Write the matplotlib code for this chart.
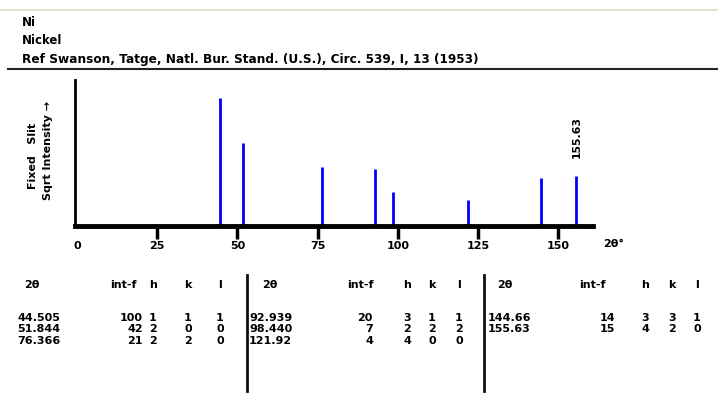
import numpy as np
import matplotlib
matplotlib.use("Agg")
import matplotlib.pyplot as plt
from matplotlib.lines import Line2D

# Ni powder diffraction lines (Cu K-alpha)
two_theta = [44.505, 51.844, 76.366, 92.939, 98.440, 121.92, 144.66, 155.63]
two_theta_text = ["44.505", "51.844", "76.366", "92.939", "98.440", "121.92", "144.66", "155.63"]
intensity = [100, 42, 21, 20, 7, 4, 14, 15]
h_idx = [1, 2, 2, 3, 2, 4, 3, 4]
k_idx = [1, 0, 2, 1, 2, 0, 3, 2]
l_idx = [1, 0, 0, 1, 2, 0, 1, 0]
x_ticks = [0, 25, 50, 75, 100, 125, 150]
labelled_peak = 155.63

title_lines = ["Ni", "Nickel",
               "Ref Swanson, Tatge, Natl. Bur. Stand. (U.S.), Circ. 539, I, 13 (1953)"]

W, H = 718, 398
fig = plt.figure(figsize=(W / 100, H / 100), dpi=100)
fig.patch.set_facecolor("white")
FONT = dict(family="DejaVu Sans", fontweight="bold")


def px(x, y):
    return x / W, 1 - y / H


def ftext(x, y, s, size=8, **kw):
    fx, fy = px(x, y)
    fig.text(fx, fy, s, fontsize=size, **FONT, **kw)


def hline(y, x0, x1, color, lw):
    fig.add_artist(Line2D([x0 / W, x1 / W], [1 - y / H, 1 - y / H],
                          color=color, lw=lw, transform=fig.transFigure))


def vline(x, y0, y1, color, lw):
    fig.add_artist(Line2D([x / W, x / W], [1 - y0 / H, 1 - y1 / H],
                          color=color, lw=lw, transform=fig.transFigure))


# header block
hline(10, 0, W, "#e4e0d4", 1.5)
ftext(22, 22, title_lines[0], size=8.5, va="center")
ftext(22, 40, title_lines[1], size=8.5, va="center")
ftext(22, 59, title_lines[2], size=8.7, va="center")
hline(69, 8, W, "#222222", 1.5)

# stick pattern
ax = fig.add_axes([75 / W, 1 - 226 / H, (593 - 75) / W, (226 - 80) / H])
heights = np.sqrt(intensity)
ax.vlines(two_theta, 0, heights, color="#0000ff", lw=2)
ax.set_xlim(-0.6, 160.8)
ax.set_ylim(0, 11.4)
for s in ("top", "right"):
    ax.spines[s].set_visible(False)
ax.spines["left"].set_linewidth(2)
ax.spines["bottom"].set_linewidth(3.5)
ax.set_yticks([])
ax.set_xticks(x_ticks)
ax.set_xticklabels([str(t) for t in x_ticks], fontsize=8, fontweight="bold")
ax.tick_params(axis="x", direction="out", length=9, width=2.5, pad=2)
ax.xaxis.get_major_ticks()[0].tick1line.set_visible(False)

i_lab = two_theta.index(labelled_peak)
ax.annotate(two_theta_text[i_lab], xy=(labelled_peak, heights[i_lab]),
            xytext=(0, 13), textcoords="offset points", rotation=90,
            ha="center", va="bottom", fontsize=7.8, **FONT)

ftext(614, 244, "2θ°", size=8, ha="center", va="center")
ftext(33, 156, "Fixed   Slit", size=8, rotation=90, ha="center", va="center")
ftext(48, 150, "Sqrt Intensity →", size=8, rotation=90, ha="center", va="center")

# peak table, three blocks of rows
cols = [
    dict(tt=17, tt_hdr=32, it=143, it_hdr=123, h=153, k=188, l=220),
    dict(tt=249, tt_hdr=270, it=373, it_hdr=360, h=407, k=432, l=459),
    dict(tt=488, tt_hdr=505, it=615, it_hdr=592, h=645, k=672, l=697),
]
row_y = [318, 329, 341]
hdr_y = 285
for b, c in enumerate(cols):
    ftext(c["tt_hdr"], hdr_y, "2θ", ha="center", va="center")
    ftext(c["it_hdr"], hdr_y, "int-f", ha="center", va="center")
    ftext(c["h"], hdr_y, "h", ha="center", va="center")
    ftext(c["k"], hdr_y, "k", ha="center", va="center")
    ftext(c["l"], hdr_y, "l", ha="center", va="center")
    for r in range(3):
        i = b * 3 + r
        if i >= len(two_theta):
            break
        y = row_y[r]
        ftext(c["tt"], y, two_theta_text[i], ha="left", va="center")
        ftext(c["it"], y, str(intensity[i]), ha="right", va="center")
        ftext(c["h"], y, str(h_idx[i]), ha="center", va="center")
        ftext(c["k"], y, str(k_idx[i]), ha="center", va="center")
        ftext(c["l"], y, str(l_idx[i]), ha="center", va="center")

vline(247, 275, 391, "#111111", 2)
vline(484, 275, 391, "#111111", 2)

fig.savefig("out.png", dpi=100, facecolor="white")
